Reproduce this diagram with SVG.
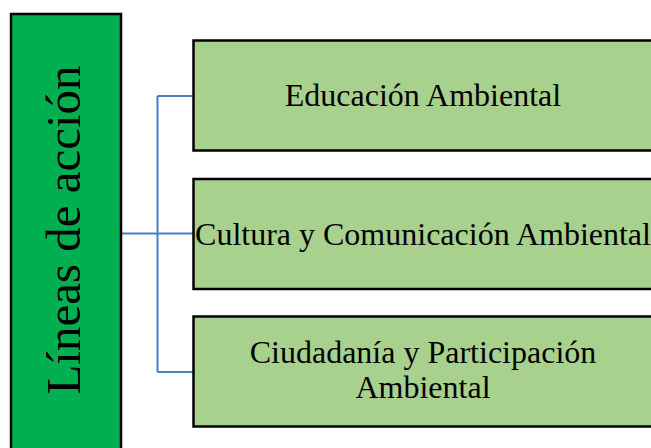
<svg xmlns="http://www.w3.org/2000/svg" width="651" height="448" viewBox="0 0 651 448">
<style>
.box{fill:#A9D18E;stroke:#000;stroke-width:2.5}
.t{font-family:"Liberation Serif","Times New Roman",serif;font-size:32px;fill:#000;text-anchor:middle}
.c{fill:none;stroke:#4A7EBB;stroke-width:2}
</style>
<rect width="651" height="448" fill="#fff"/>
<g id="connectors">
<path class="c" d="M121 233.5H193M157.5 96V372M157.5 96H193M157.5 372H193"/>
</g>
<g id="main">
<rect x="11" y="14" width="110" height="450" fill="#00B050" stroke="#000" stroke-width="2.5"/>
<text class="t" style="font-size:49px" transform="translate(80,230) rotate(-90)">Líneas de acción</text>
</g>
<g id="n1">
<rect class="box" x="193.5" y="40.5" width="460" height="110"/>
<text class="t" x="423" y="106">Educación Ambiental</text>
</g>
<g id="n2">
<rect class="box" x="193.5" y="179" width="460" height="110"/>
<text class="t" x="423" y="245">Cultura y Comunicación Ambiental</text>
</g>
<g id="n3">
<rect class="box" x="193.5" y="316.5" width="460" height="110"/>
<text class="t" x="423" y="363">Ciudadanía y Participación</text>
<text class="t" x="423" y="398">Ambiental</text>
</g>
</svg>
